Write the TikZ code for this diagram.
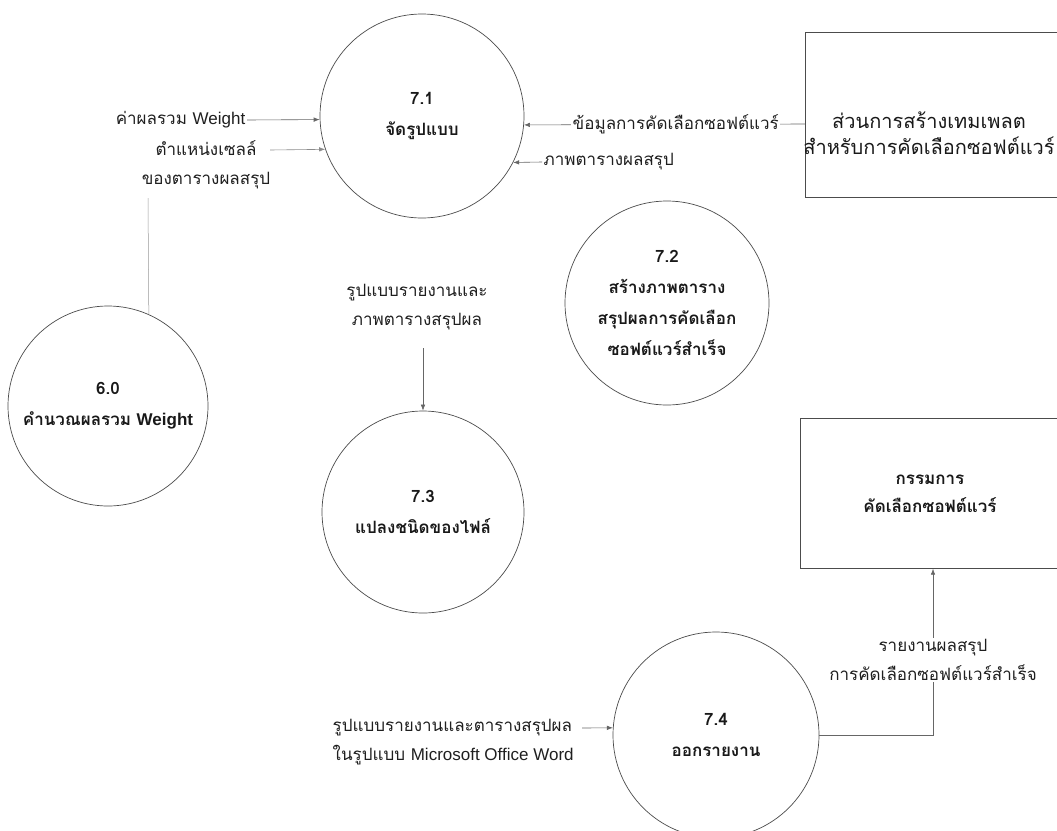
\documentclass[tikz,border=0pt]{standalone}
\usepackage{fontspec}
\setmainfont{Liberation Sans}
\newfontfamily\thai[Script=Thai]{Loma}
\newfontfamily\lat{Liberation Sans}
\usetikzlibrary{arrows.meta}
\begin{document}
\begin{tikzpicture}[x=1pt,y=-1pt,
  proc/.style={circle, draw=black!70, line width=0.7pt, minimum size=#1, inner sep=0pt,
    align=center, text=black!90, font=\thai\bfseries\fontsize{17}{31}\selectfont},
  ext/.style={rectangle, draw=black!70, line width=0.7pt, inner sep=0pt},
  exttxt/.style={align=center, text=black!90, inner sep=0pt, font=\thai\bfseries\fontsize{17}{28}\selectfont},
  lbl/.style={align=center, text=black!88, inner sep=1.5pt, font=\thai\fontsize{17}{29}\selectfont},
  flow/.style={draw=black!60, line width=0.6pt, -{Latex[length=6pt,width=4.5pt]}},
  faint/.style={draw=black!40, line width=0.5pt}
]
\useasboundingbox[fill=white] (0,0) rectangle (1057,830);

% processes
\node[proc=204pt] (c71) at (422,116) {7.1\\จัดรูปแบบ};
\node[proc=204pt] (c72) at (667,303) {7.2\\สร้างภาพตาราง\\สรุปผลการคัดเลือก\\ซอฟต์แวร์สำเร็จ};
\node[proc=202pt] (c73) at (423,512) {7.3\\แปลงชนิดของไฟล์};
\node[proc=200pt] (c60) at (108,406) {6.0\\คำนวณผลรวม {\lat\bfseries Weight}};
\node[proc=206pt] (c74) at (716,735) {7.4\\ออกรายงาน};

% external entities
\node[ext, anchor=north west, minimum width=320pt, minimum height=165pt] (src) at (805,32) {};
\node[exttxt, font=\thai\fontsize{20}{26}\selectfont] (srct) at (929,133) {ส่วนการสร้างเทมเพลต\\สำหรับการคัดเลือกซอฟต์แวร์};
\node[ext, anchor=north west, minimum width=300pt, minimum height=150pt] (com) at (800,418) {};
\node[exttxt] (comt) at (930,494) {กรรมการ\\คัดเลือกซอฟต์แวร์};

% labels and flows into 7.1
\node[lbl, anchor=east] (l1) at (247,120) {ค่าผลรวม {\lat Weight}};
\draw[flow] (l1.east) -- (c71.182.2);

\node[lbl] (l2) at (206,165) {ตำแหน่งเซลล์\\ของตารางผลสรุป};
\coordinate (l2s) at (270,150);
\coordinate (l2b) at (148,198);
\draw[faint] (c60.66.4) -- (l2b);
\draw[flow, draw=black!45] (l2s) -- (c71.199.5);

\coordinate (srcw) at (805,124);
\draw[flow] (srcw) -- node[lbl, fill=white, pos=0.46] (l3) {ข้อมูลการคัดเลือกซอฟต์แวร์} (c71.355.5);

\node[lbl, anchor=west] (l4) at (542,162) {ภาพตารางผลสรุป};
\draw[flow] (l4.west) -- (c71.333.2);

% into 7.3
\node[lbl] (l5) at (417,307) {รูปแบบรายงานและ\\ภาพตารางสรุปผล};
\coordinate (in73) at (423,348);
\draw[flow] (in73) -- (c73.north);

% into 7.4
\node[lbl, anchor=west, align=left] (l6) at (331,742) {รูปแบบรายงานและตารางสรุปผล\\ในรูปแบบ {\lat Microsoft Office Word}};
\coordinate (in74) at (582,728);
\draw[flow] (in74) -- (c74.176.1);

% 7.4 to committee
\coordinate (turn) at (933,735);
\draw[flow] (c74.east) -- (turn) -- node[lbl, fill=white, pos=0.45] (l7) {รายงานผลสรุป\\การคัดเลือกซอฟต์แวร์สำเร็จ} (turn |- com.south);
\end{tikzpicture}
\end{document}
